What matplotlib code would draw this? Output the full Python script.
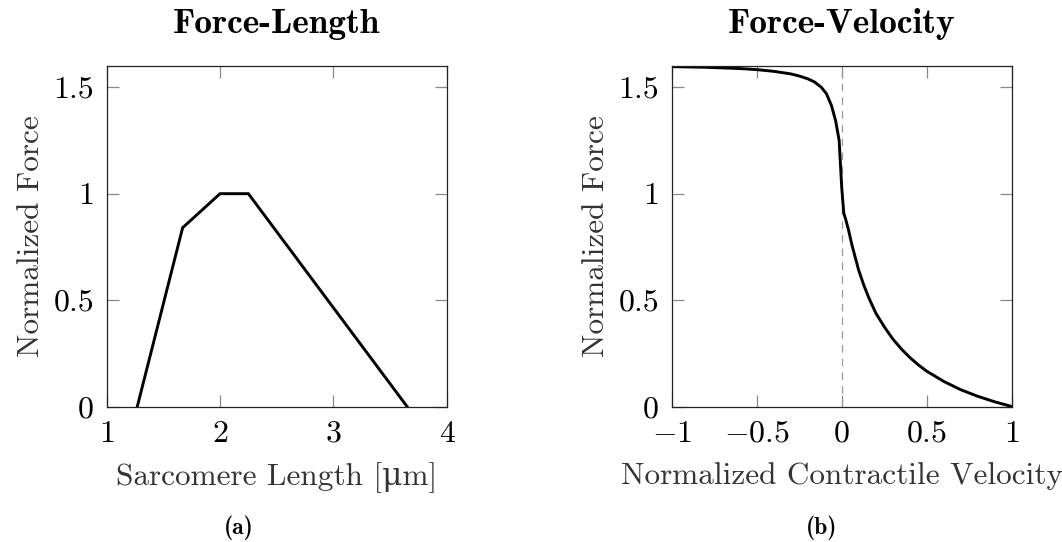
import matplotlib
matplotlib.use("Agg")
import matplotlib.pyplot as plt

plt.rcParams['font.family'] = ['cmr10', 'DejaVu Serif']
plt.rcParams['mathtext.fontset'] = 'cm'
plt.rcParams['axes.unicode_minus'] = False

# force-length data (sarcomere length in um, normalized force)
fl_length = [1.27, 1.67, 2.0, 2.25, 3.65]
fl_force = [0.0, 0.84, 1.0, 1.0, 0.0]

# force-velocity data
fv_velocity = [-1.0, -0.8, -0.6, -0.5, -0.4, -0.3, -0.25, -0.2, -0.16, -0.12, -0.09,
               -0.06, -0.035, -0.015, 0.0, 0.012, 0.025, 0.04, 0.06, 0.08, 0.1, 0.13,
               0.16, 0.2, 0.25, 0.3, 0.35, 0.4, 0.45, 0.5, 0.6, 0.7, 0.8, 0.9, 1.0]
fv_force = [1.597, 1.594, 1.588, 1.583, 1.575, 1.563, 1.553, 1.540, 1.525, 1.50, 1.47,
            1.414, 1.34, 1.25, 1.03, 0.91, 0.875, 0.83, 0.76, 0.70, 0.64, 0.57,
            0.51, 0.44, 0.375, 0.318, 0.271, 0.231, 0.196, 0.166, 0.118, 0.079, 0.048,
            0.022, 0.0]

fl_xticks = [1, 2, 3, 4]
fl_xlabels = ['1', '2', '3', '4']
fv_xticks = [-1, -0.5, 0, 0.5, 1]
fv_xlabels = ['$-1$', '$-0.5$', '$0$', '$0.5$', '$1$']
yticks = [0, 0.5, 1, 1.5]
ylabels = ['0', '0.5', '1', '1.5']

fig = plt.figure(figsize=(10.62, 5.42), dpi=100)
ax1 = fig.add_axes([106.7 / 1062, 1 - 406.5 / 542, 340 / 1062, 340.5 / 542])
ax2 = fig.add_axes([671.7 / 1062, 1 - 406.5 / 542, 340 / 1062, 340.5 / 542])

tick_fs = 23
label_fs = 22.5
label_color = '#333333'


def style(ax):
    ax.set_ylim(0, 1.6)
    ax.set_yticks(yticks, ylabels)
    ax.tick_params(direction='in', length=8.4, width=0.9, color='#888888',
                   top=True, right=True, labelsize=tick_fs)
    ax.tick_params(axis='x', pad=10)
    ax.tick_params(axis='y', pad=9)
    for s in ax.spines.values():
        s.set_color('#222222')
        s.set_linewidth(0.9)
    ax.set_ylabel('Normalized Force', fontsize=label_fs, color=label_color, labelpad=6)


ax1.plot(fl_length, fl_force, color='black', lw=2.1, solid_joinstyle='miter')
ax1.set_xlim(1, 4)
ax1.set_xticks(fl_xticks, fl_xlabels)
style(ax1)
ax1.set_xlabel('Sarcomere Length [\u03bcm]', fontsize=label_fs, color=label_color, labelpad=10)
ax1.set_title('Force-Length', fontsize=25.5, family='cmb10', pad=24)

ax2.axvline(0, color='#999999', lw=0.9, dashes=(6, 5))
ax2.plot(fv_velocity, fv_force, color='black', lw=2.1)
ax2.set_xlim(-1, 1)
ax2.set_xticks(fv_xticks, fv_xlabels)
style(ax2)
ax2.set_xlabel('Normalized Contractile Velocity', fontsize=label_fs, color=label_color, labelpad=10)
ax2.set_title('Force-Velocity', fontsize=25.5, family='cmb10', pad=24)

fig.text(239 / 1062, 1 - 528 / 542, '(a)', fontsize=17, family='cmb10', ha='center', va='center')
fig.text(822 / 1062, 1 - 528 / 542, '(b)', fontsize=17, family='cmb10', ha='center', va='center')

fig.savefig('out.png', dpi=100)
